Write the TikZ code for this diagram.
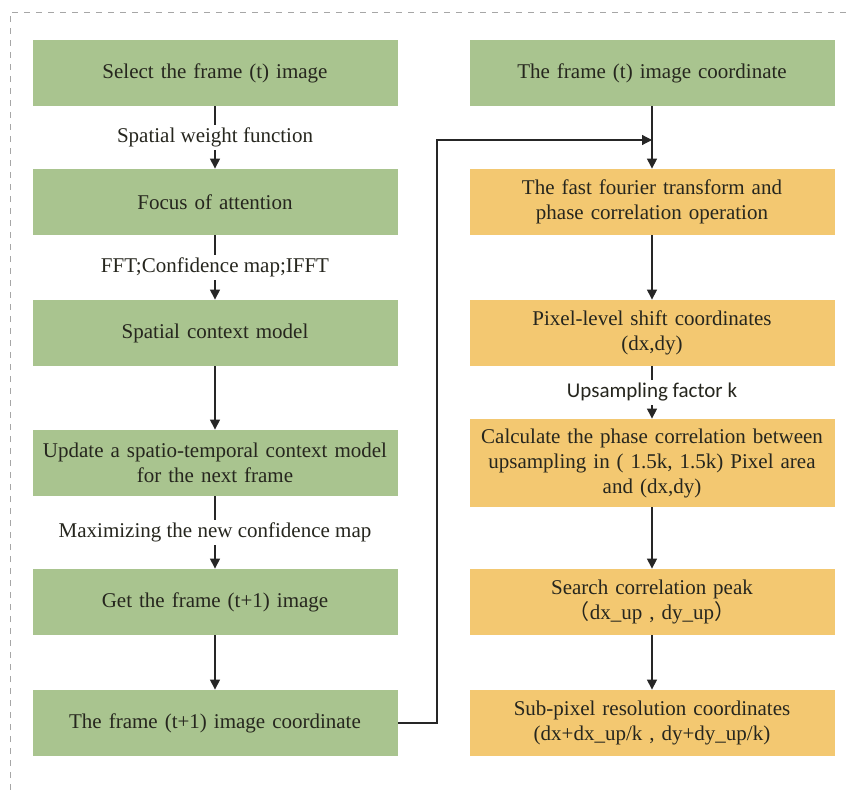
\documentclass[tikz,border=0pt]{standalone}
\usepackage{fontspec}
\setmainfont{Liberation Serif}
\newfontfamily\labelsans{Carlito}
\newfontfamily\cjkparen{Noto Sans CJK SC}
\usepackage{tikz}
\usetikzlibrary{arrows.meta,positioning}
\definecolor{boxgreen}{RGB}{169,196,143}
\definecolor{boxorange}{RGB}{243,200,113}
\definecolor{inktext}{RGB}{38,38,30}
\tikzset{
  flow-green/.style={fill=boxgreen, draw=none, text=inktext, align=center,
    text width=176pt, minimum width=182.5pt, minimum height=33pt, inner sep=2pt,
    font=\rmfamily\fontsize{10.5}{12.5}\selectfont},
  flow-orange/.style={flow-green, fill=boxorange},
  flow-label/.style={fill=white, text=inktext, inner sep=1.5pt,
    font=\rmfamily\fontsize{10.5}{12.5}\selectfont},
  flow-arrow/.style={-{Triangle[length=5pt,width=5pt]}, line width=0.6pt, draw=black!85}
}

\begin{document}
\begin{tikzpicture}[x=0.5pt, y=-0.5pt]
  \useasboundingbox (0,0) rectangle (850,790);

  % Frame border
  \draw[black!35, dashed, line width=0.4pt] (10,790) -- (10,12) -- (850,12);

  % Left column
  \node[flow-green] (l1) at (215,73) {Select the frame (t) image};
  \node[flow-green] (l2) at (215,202) {Focus of attention};
  \node[flow-green] (l3) at (215,333) {Spatial context model};
  \node[flow-green] (l4) at (215,463) {Update a spatio-temporal context model\\for the next frame};
  \node[flow-green] (l5) at (215,602) {Get the frame (t+1) image};
  \node[flow-green] (l6) at (215,723) {The frame (t+1) image coordinate};

  \draw[flow-arrow] (l1) -- node[flow-label] {Spatial weight function} (l2);
  \draw[flow-arrow] (l2) -- node[flow-label] {FFT;Confidence map;IFFT} (l3);
  \draw[flow-arrow] (l3) -- (l4);
  \draw[flow-arrow] (l4) -- node[flow-label] {Maximizing the new confidence map} (l5);
  \draw[flow-arrow] (l5) -- (l6);

  % Right column
  \node[flow-green] (r1) at (652,73) {The frame (t) image coordinate};
  \node[flow-orange] (r2) at (652,202) {The fast fourier transform and\\phase correlation operation};
  \node[flow-orange] (r3) at (652,333) {Pixel-level shift coordinates\\(dx,dy)};
  \node[flow-orange, minimum height=44pt] (r4) at (652,463) {Calculate the phase correlation between\\upsampling in ( 1.5k, 1.5k) Pixel area\\and (dx,dy)};
  \node[flow-orange] (r5) at (652,602) {Search correlation peak\\{\cjkparen（}dx\_up , dy\_up{\cjkparen）}};
  \node[flow-orange] (r6) at (652,723) {Sub-pixel resolution coordinates\\(dx+dx\_up/k , dy+dy\_up/k)};

  \draw[flow-arrow] (r1) -- (r2);
  \draw[flow-arrow] (r2) -- (r3);
  \draw[flow-arrow] (r3) -- node[flow-label, font=\labelsans\fontsize{10.5}{12.5}\selectfont] {Upsampling factor k} (r4);
  \draw[flow-arrow] (r4) -- (r5);
  \draw[flow-arrow] (r5) -- (r6);

  % Link between the columns
  \coordinate (join) at (652,140);
  \draw[flow-arrow] (l6.east) -| (437,140) -- (join);
\end{tikzpicture}
\end{document}
